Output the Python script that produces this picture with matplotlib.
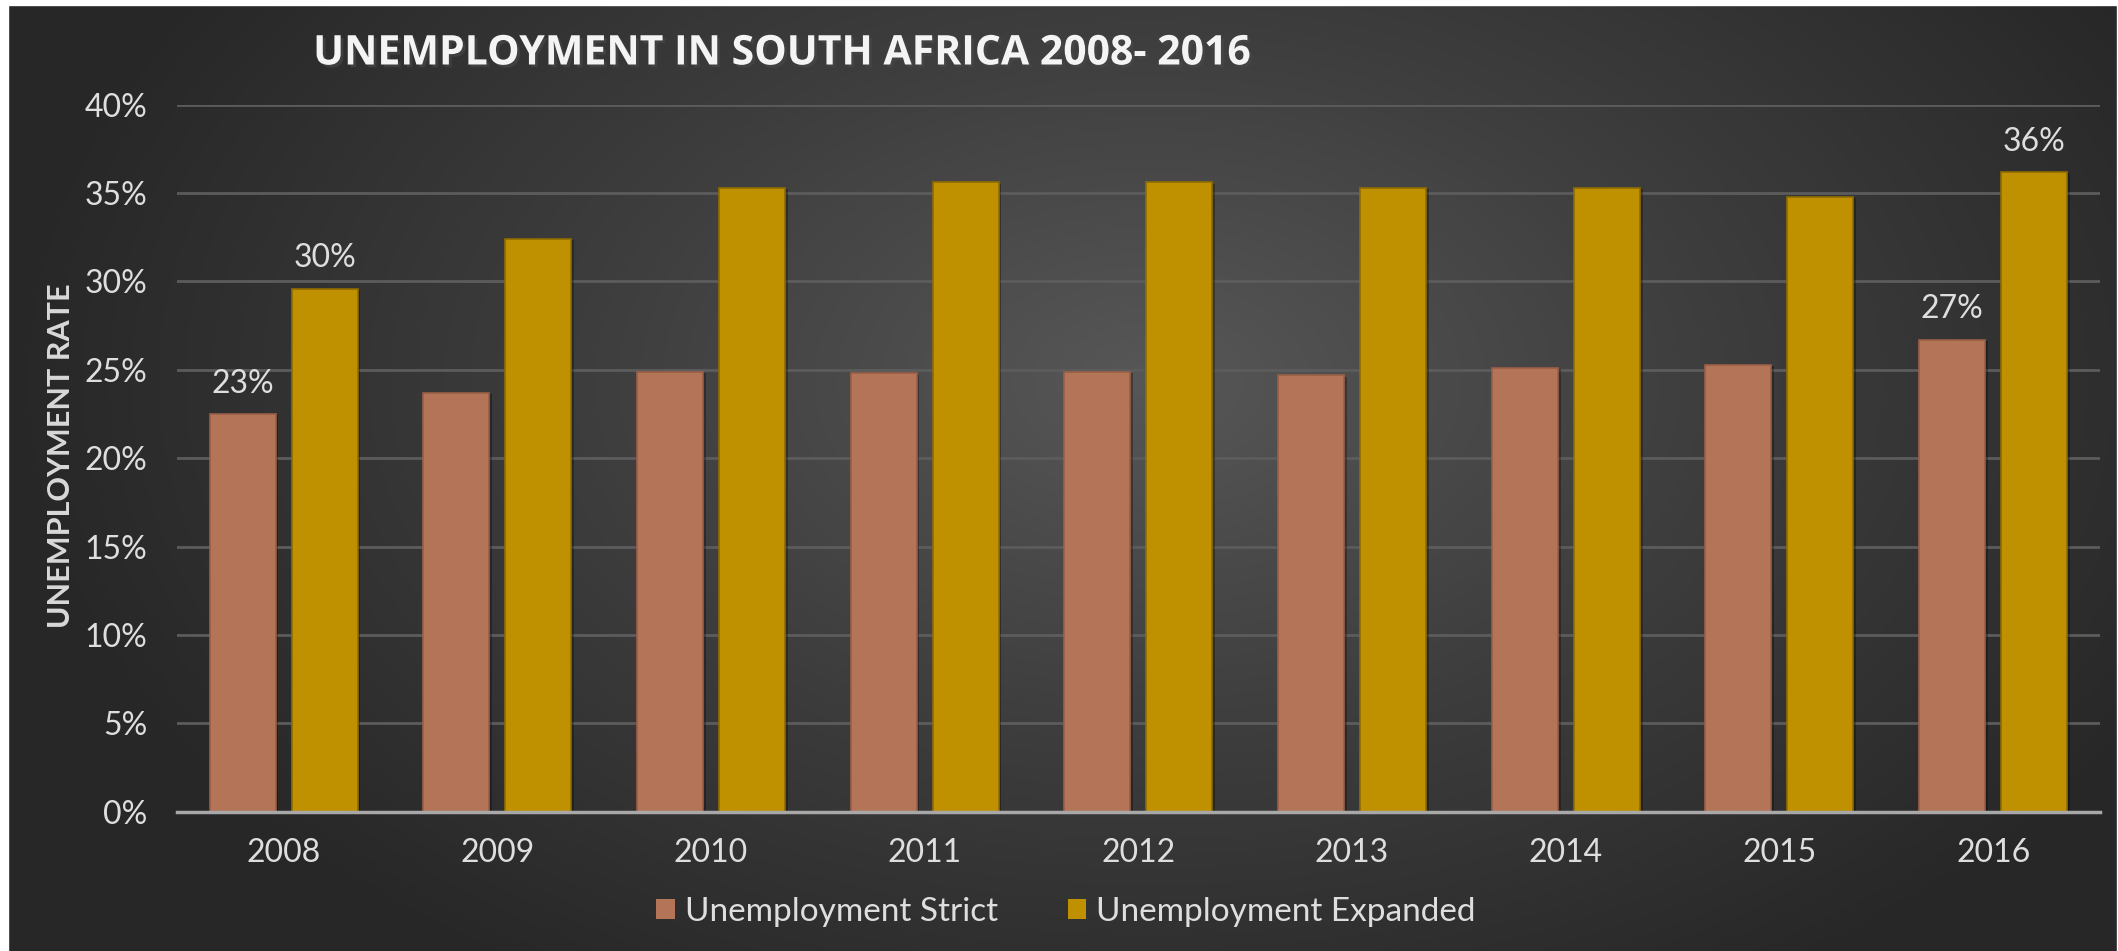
"""Unemployment in South Africa, strict vs expanded definition, 2008-2016."""

import math

import matplotlib.pyplot as plt
import matplotlib.patheffects as pe
import numpy as np
from matplotlib.colors import LinearSegmentedColormap
from matplotlib.patches import Rectangle

YEARS = ["2008", "2009", "2010", "2011", "2012", "2013", "2014", "2015", "2016"]
STRICT = [22.5, 23.7, 24.9, 24.8, 24.9, 24.7, 25.1, 25.3, 26.7]
EXPANDED = [29.6, 32.4, 35.3, 35.6, 35.6, 35.3, 35.3, 34.8, 36.2]
LABELLED_YEARS = ["2008", "2016"]
Y_TICKS = [0, 5, 10, 15, 20, 25, 30, 35, 40]

STRICT_COLOR = "#b47457"
EXPANDED_COLOR = "#bf9000"
TEXT = "#dedede"
GRID = "#5c5c5c"
FONT = "Lato"
TITLE_FONT = "Open Sans"

W, H, DPI = 2118, 951, 100

fig = plt.figure(figsize=(W / DPI, H / DPI), dpi=DPI, facecolor="white")

# radial-gradient backdrop, leaving a thin white margin on the left/top/right
bg = fig.add_axes([0, 0, 1, 1], zorder=-10)
bg.set_xlim(0, W)
bg.set_ylim(H, 0)
bg.axis("off")
xx, yy = np.meshgrid(np.linspace(0, W, 424), np.linspace(0, H, 190))
r = np.sqrt(((xx - 1150) / 1150) ** 2 + ((yy - 380) / 720) ** 2)
r = np.clip(r, 0, 1)
cmap = LinearSegmentedColormap.from_list("bg", ["#575757", "#3d3d3d", "#272727"])
bg.imshow(r, cmap=cmap, extent=(0, W, H, 0), aspect="auto", interpolation="bicubic")
bg.add_patch(Rectangle((0, 0), 8, H, color="white", zorder=5))
bg.add_patch(Rectangle((0, 0), W, 5, color="white", zorder=5))
bg.add_patch(Rectangle((W - 1, 0), 1, H, color="white", zorder=5))

ax = fig.add_axes([176.7 / W, 1 - 811.7 / H, (2100 - 176.7) / W, (811.7 - 104.7) / H])
ax.set_facecolor("none")

x = np.arange(len(YEARS))
width = 0.309
offset = 0.192
shadow = [pe.SimplePatchShadow(offset=(2, -1), shadow_rgbFace="black", alpha=0.3), pe.Normal()]

strict_bars = ax.bar(x - offset, STRICT, width, color=STRICT_COLOR, edgecolor="#9a5f46",
                     linewidth=1.2, label="Unemployment Strict", zorder=3)
exp_bars = ax.bar(x + offset, EXPANDED, width, color=EXPANDED_COLOR, edgecolor="#8f6c00",
                  linewidth=1.2, label="Unemployment Expanded", zorder=3)
for b in list(strict_bars) + list(exp_bars):
    b.set_path_effects(shadow)

for i, year in enumerate(YEARS):
    if year in LABELLED_YEARS:
        for xpos, v in ((x[i] - offset, STRICT[i]), (x[i] + offset, EXPANDED[i])):
            ax.annotate(f"{math.floor(v + 0.5)}%", (xpos, v), xytext=(0, 11),
                        textcoords="offset points", ha="center", va="bottom",
                        color=TEXT, fontsize=23, family=FONT)

ax.set_xlim(-0.5, len(YEARS) - 0.5)
ax.set_ylim(0, 40)
ax.set_yticks(Y_TICKS)
ax.set_yticklabels([f"{t}%" for t in Y_TICKS])
ax.set_xticks(x)
ax.set_xticklabels(YEARS)
ax.tick_params(axis="both", length=0, colors=TEXT, labelsize=23)
ax.tick_params(axis="y", pad=21)
ax.tick_params(axis="x", pad=19)
for lbl in ax.get_xticklabels() + ax.get_yticklabels():
    lbl.set_family(FONT)

ax.grid(axis="y", color=GRID, linewidth=2)
ax.set_axisbelow(True)
for side in ("top", "right", "left"):
    ax.spines[side].set_visible(False)
ax.spines["bottom"].set_color("#a8a8a8")
ax.spines["bottom"].set_linewidth(2.5)
ax.spines["bottom"].set_zorder(4)

fig.text(61 / W, 1 - 456 / H, "UNEMPLOYMENT RATE", rotation=90, ha="center", va="center",
         color="#d9d9d9", fontsize=22, family=FONT, fontweight="bold")

fig.text(782 / W, 1 - 54 / H, "UNEMPLOYMENT IN SOUTH AFRICA 2008- 2016", ha="center",
         va="center", color="#f4f4f4", fontsize=29.5, family=TITLE_FONT, fontweight="bold",
         path_effects=[pe.withSimplePatchShadow(offset=(2, -2), alpha=0.6)])

leg = fig.legend(handles=[strict_bars, exp_bars], loc="center", ncol=2,
                 bbox_to_anchor=(1066 / W, 1 - 912 / H), frameon=False,
                 handlelength=0.55, handleheight=0.55, handletextpad=0.3,
                 columnspacing=2.1, prop={"family": FONT, "size": 24})
for t in leg.get_texts():
    t.set_color(TEXT)
for h in leg.legend_handles:
    h.set_path_effects([])
    h.set_linewidth(0)

fig.savefig("out.png", dpi=DPI)
